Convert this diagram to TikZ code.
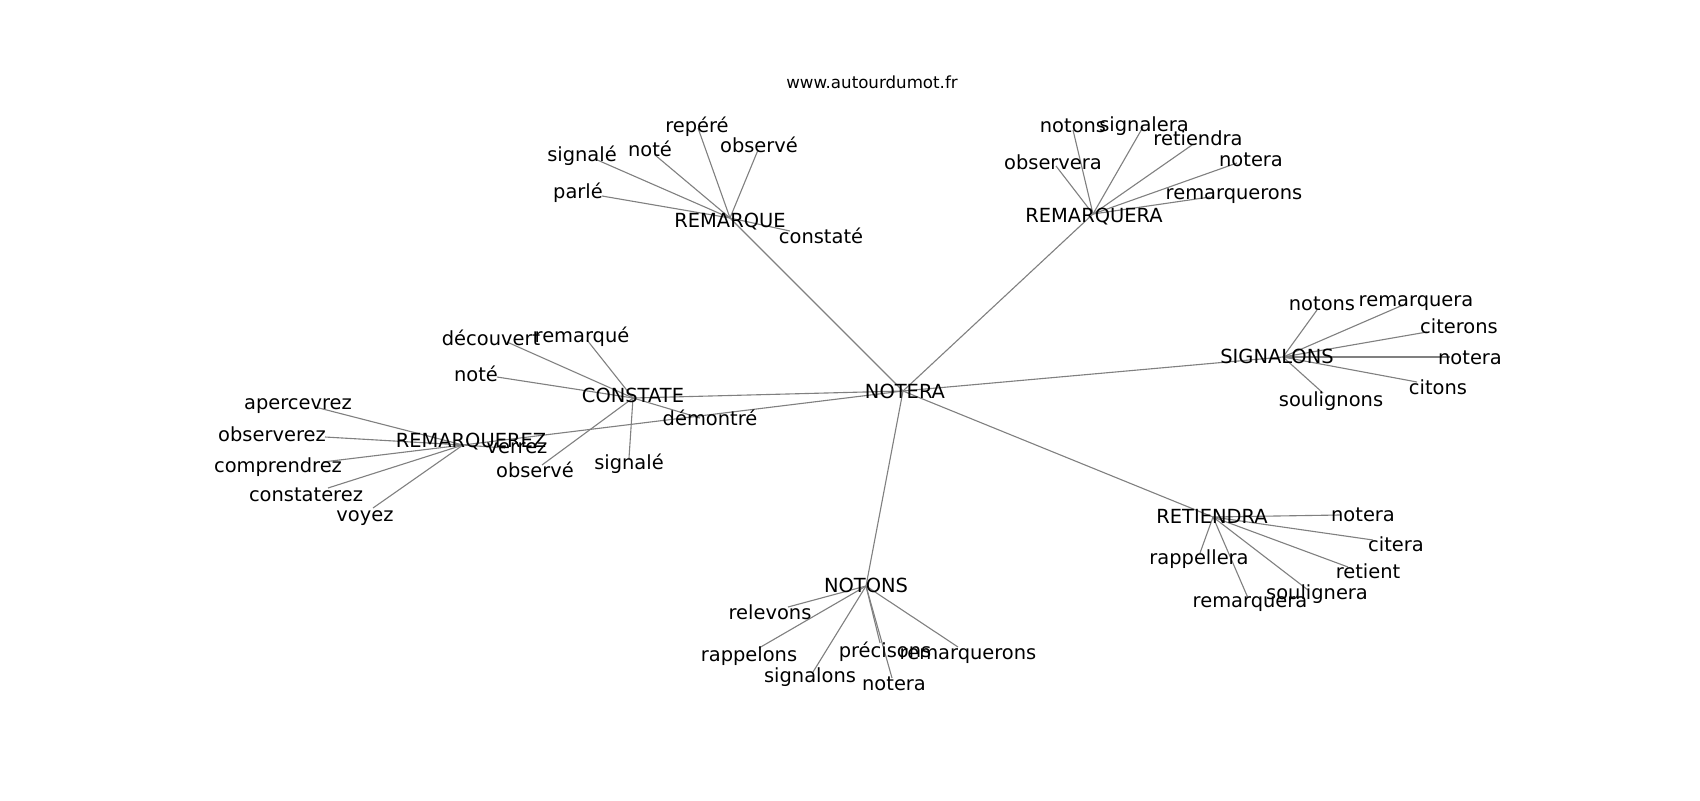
\documentclass[tikz,border=0pt]{standalone}
\usepackage{fontspec}
\setmainfont{DejaVu Sans}
\begin{document}
\begin{tikzpicture}[x=0.72pt,y=-0.72pt,
  edge/.style={draw=black!50, line width=0.8pt},
  lbl/.style={anchor=base, inner sep=0pt, font=\fontsize{14}{16}\selectfont},
  ttl/.style={anchor=base, inner sep=0pt, font=\fontsize{12}{14}\selectfont}]
\useasboundingbox (0,0) rectangle (1700,800);
% hub positions
\coordinate (h0) at (903,391);
\coordinate (h1) at (730,218);
\coordinate (h2) at (1093,214);
\coordinate (h3) at (633,398);
\coordinate (h4) at (463,445);
\coordinate (h5) at (1283,357);
\coordinate (h6) at (1213,517);
\coordinate (h7) at (866,586);
% REMARQUE leaves
\coordinate (a1) at (698,128);
\coordinate (a2) at (595,159);
\coordinate (a3) at (655,155);
\coordinate (a4) at (758,150);
\coordinate (a5) at (602,196);
\coordinate (a6) at (790,231);
% REMARQUERA leaves
\coordinate (b1) at (1073,130);
\coordinate (b2) at (1143,127);
\coordinate (b3) at (1192,145);
\coordinate (b4) at (1056,166);
\coordinate (b5) at (1237,163);
\coordinate (b6) at (1210,197);
% CONSTATE leaves
\coordinate (c1) at (507,342);
\coordinate (c2) at (587,340);
\coordinate (c3) at (497,377);
\coordinate (c4) at (700,418);
\coordinate (c5) at (542,465);
\coordinate (c6) at (629,458);
% REMARQUEREZ leaves
\coordinate (d1) at (315,407);
\coordinate (d2) at (325,437);
\coordinate (d3) at (323,462);
\coordinate (d4) at (328,488);
\coordinate (d5) at (373,508);
\coordinate (d6) at (505,448);
% SIGNALONS leaves
\coordinate (e1) at (1317,310);
\coordinate (e2) at (1403,305);
\coordinate (e3) at (1427,332);
\coordinate (e4) at (1450,357);
\coordinate (e5) at (1417,382);
\coordinate (e6) at (1323,393);
% RETIENDRA leaves
\coordinate (f1) at (1340,515);
\coordinate (f2) at (1373,540);
\coordinate (f3) at (1348,567);
\coordinate (f4) at (1308,590);
\coordinate (f5) at (1248,598);
\coordinate (f6) at (1200,553);
% NOTONS leaves
\coordinate (g1) at (788,607);
\coordinate (g2) at (759,648);
\coordinate (g3) at (813,672);
\coordinate (g4) at (880,643);
\coordinate (g5) at (892,678);
\coordinate (g6) at (958,647);
% edges
\foreach \h in {h1,h2,h3,h4,h5,h6,h7} {\draw[edge] (h0) -- (\h);}
\foreach \l in {a1,a2,a3,a4,a5,a6} {\draw[edge] (h1) -- (\l);}
\foreach \l in {b1,b2,b3,b4,b5,b6} {\draw[edge] (h2) -- (\l);}
\foreach \l in {c1,c2,c3,c4,c5,c6} {\draw[edge] (h3) -- (\l);}
\foreach \l in {d1,d2,d3,d4,d5,d6} {\draw[edge] (h4) -- (\l);}
\foreach \l in {e1,e2,e3,e4,e5,e6} {\draw[edge] (h5) -- (\l);}
\foreach \l in {f1,f2,f3,f4,f5,f6} {\draw[edge] (h6) -- (\l);}
\foreach \l in {g1,g2,g3,g4,g5,g6} {\draw[edge] (h7) -- (\l);}
% title
\node[ttl] (title) at (872,88) {www.autourdumot.fr};
% hub labels
\node[lbl] (th0) at (905,398) {NOTERA};
\node[lbl] (th1) at (730,227) {REMARQUE};
\node[lbl] (th2) at (1094,222) {REMARQUERA};
\node[lbl] (th3) at (633,402) {CONSTATE};
\node[lbl] (th4) at (471,447) {REMARQUEREZ};
\node[lbl] (th5) at (1277,363) {SIGNALONS};
\node[lbl] (th6) at (1212,523) {RETIENDRA};
\node[lbl] (th7) at (866,592) {NOTONS};
% REMARQUE leaf labels
\node[lbl] (ta1) at (697,132) {repéré};
\node[lbl] (ta2) at (582,161) {signalé};
\node[lbl] (ta3) at (650,156) {noté};
\node[lbl] (ta4) at (759,152) {observé};
\node[lbl] (ta5) at (578,198) {parlé};
\node[lbl] (ta6) at (821,243) {constaté};
% REMARQUERA leaf labels
\node[lbl] (tb1) at (1073,132) {notons};
\node[lbl] (tb2) at (1144,131) {signalera};
\node[lbl] (tb3) at (1198,145) {retiendra};
\node[lbl] (tb4) at (1053,169) {observera};
\node[lbl] (tb5) at (1251,166) {notera};
\node[lbl] (tb6) at (1234,199) {remarquerons};
% CONSTATE leaf labels
\node[lbl] (tc1) at (491,345) {découvert};
\node[lbl] (tc2) at (582,342) {remarqué};
\node[lbl] (tc3) at (476,381) {noté};
\node[lbl] (tc4) at (710,425) {démontré};
\node[lbl] (tc5) at (535,477) {observé};
\node[lbl] (tc6) at (629,469) {signalé};
% REMARQUEREZ leaf labels
\node[lbl] (td1) at (298,409) {apercevrez};
\node[lbl] (td2) at (272,441) {observerez};
\node[lbl] (td3) at (278,472) {comprendrez};
\node[lbl] (td4) at (306,501) {constaterez};
\node[lbl] (td5) at (365,521) {voyez};
\node[lbl] (td6) at (517,453) {verrez};
% SIGNALONS leaf labels
\node[lbl] (te1) at (1322,310) {notons};
\node[lbl] (te2) at (1416,306) {remarquera};
\node[lbl] (te3) at (1459,333) {citerons};
\node[lbl] (te4) at (1470,364) {notera};
\node[lbl] (te5) at (1438,394) {citons};
\node[lbl] (te6) at (1331,406) {soulignons};
% RETIENDRA leaf labels
\node[lbl] (tf1) at (1363,521) {notera};
\node[lbl] (tf2) at (1396,551) {citera};
\node[lbl] (tf3) at (1368,578) {retient};
\node[lbl] (tf4) at (1317,599) {soulignera};
\node[lbl] (tf5) at (1250,607) {remarquera};
\node[lbl] (tf6) at (1199,564) {rappellera};
% NOTONS leaf labels
\node[lbl] (tg1) at (770,619) {relevons};
\node[lbl] (tg2) at (749,661) {rappelons};
\node[lbl] (tg3) at (810,682) {signalons};
\node[lbl] (tg4) at (885,657) {précisons};
\node[lbl] (tg5) at (894,690) {notera};
\node[lbl] (tg6) at (968,659) {remarquerons};
\end{tikzpicture}
\end{document}
